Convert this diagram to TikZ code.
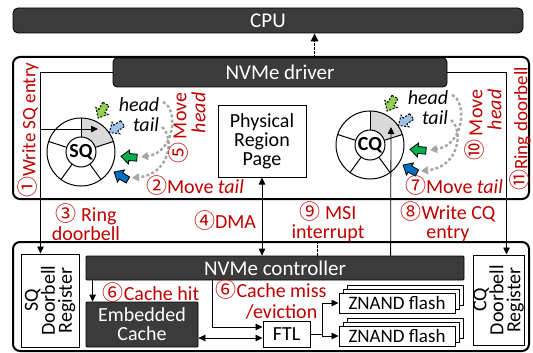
\documentclass[tikz,border=0pt]{standalone}
\usepackage{fontspec}
\setmainfont{Carlito}
\newfontfamily\cjkf{Noto Sans CJK JP}
\usetikzlibrary{arrows.meta,calc,shadows}
\definecolor{darkbar}{HTML}{3B3B3B}
\definecolor{lred}{HTML}{C00000}
\definecolor{segg}{HTML}{D9D9D9}
\definecolor{arrg}{HTML}{A6A6A6}
\definecolor{gsol}{HTML}{00B050}
\definecolor{glt}{HTML}{92D050}
\definecolor{bsol}{HTML}{0070C0}
\definecolor{blt}{HTML}{9DC3E6}
\newcommand\cn[1]{{\cjkf\fontsize{21}{19}\selectfont #1}}
\newcommand\fs{\fontsize{20}{19}\selectfont}
\newcommand\ptr[4]{\begin{scope}[shift={(#1,#2)},rotate=#3]\draw[#4] (-8,-3.5) -- (0,-3.5) -- (0,-7) -- (8,0) -- (0,7) -- (0,3.5) -- (-8,3.5) -- cycle;\end{scope}}
\newcommand\queue[4]{%
\begin{scope}[shift={(#1,#2)}]
 \fill[segg] (90:34) arc[start angle=90,end angle=18,radius=34] -- (18:15) arc[start angle=18,end angle=90,radius=15] -- cycle;
 \draw[line width=1pt] (0,0) circle[radius=34];
 \draw[line width=1pt] (0,0) circle[radius=15];
 \foreach \a in {90,18,-54,-126,162}{\draw[line width=1pt] (\a:15) -- (\a:34);}
 \node[font=\fs\bfseries, inner sep=0pt] (#3) at (0,0) {#4};
 \draw[garr] (82,50) .. controls (97,44) and (95,0) .. (60,-5);
 \draw[garr] (81,25) .. controls (94,14) and (89,-22) .. (51,-26);
 \ptr{21}{41}{241}{ptrd,fill=glt}
 \ptr{35}{24}{214}{ptrd,fill=blt}
 \ptr{48}{-5}{175}{ptrs,fill=gsol}
 \ptr{40}{-24}{150}{ptrs,fill=bsol}
 \node[font=\fs\itshape, inner sep=0pt] (#3h) at (58,47.5) {head};
 \node[font=\fs\itshape, inner sep=0pt] (#3t) at (65,27) {tail};
\end{scope}}
\begin{document}
\begin{tikzpicture}[x=1pt,y=1pt,
  >={Triangle[length=7pt,width=6.5pt]},
  bar/.style={draw=black, line width=0.8pt, fill=darkbar, rounded corners=4pt, text=white, font=\fontsize{21}{19}\selectfont, inner sep=0pt, align=center},
  wbox/.style={draw=black, line width=1pt, fill=white, font=\fs, inner sep=0pt, align=center},
  lab/.style={text=lred, font=\fs, inner sep=0pt, align=center},
  thinl/.style={line width=0.8pt},
  bigbox/.style={draw=black, line width=2pt, rounded corners=7pt, minimum width=516, minimum height=142, inner sep=0pt},
  garr/.style={draw=arrg, line width=2.4pt, dash pattern=on 3pt off 2.2pt, -{Triangle[length=7pt,width=8pt,fill=arrg]}},
  ptrd/.style={draw=black, line width=1pt, dash pattern=on 2pt off 1.5pt},
  ptrs/.style={draw=black, line width=0.8pt},
  dashl/.style={line width=1.3pt, dash pattern=on 2.5pt off 1.5pt}
]
\useasboundingbox (0,0) rectangle (533,-353);
% frames
\node[bigbox] (host) at (271,-128) {};
\node[bigbox, minimum height=109] (dev) at (271,-296.5) {};
% CPU and driver
\node[bar, rounded corners=5pt, minimum width=510, minimum height=25] (cpu) at (268,-20.5) {CPU};
\node[bar, minimum width=334, minimum height=29] (drv) at (280,-72.5) {NVMe driver};
% PRP
\node[wbox, minimum width=88, minimum height=72] (prp) at (262,-141) {Physical\\Region\\Page};
% queues
\queue{81}{-152}{sq}{SQ}
\queue{370}{-145}{cq}{CQ}
\coordinate (sqin) at (41,-129);
\coordinate (sqt) at (98,-129);
\coordinate (cqt) at (391,-127);
% device
\node[bar, rounded corners=1pt, minimum width=378, minimum height=24] (ctrl) at (275,-268) {NVMe controller};
\node[wbox, rotate=90, minimum width=93, minimum height=58, font=\fontsize{20}{17}\selectfont] (sqdb) at (50,-300.5) {SQ\\Doorbell\\Register};
\node[wbox, rotate=90, minimum width=90, minimum height=51, font=\fontsize{20}{17}\selectfont] (cqdb) at (498.5,-300) {CQ\\Doorbell\\Register};
\node[bar, rounded corners=1pt, minimum width=112, minimum height=45, font=\fontsize{20}{19}\selectfont] (cache) at (142,-324.5) {Embedded\\Cache};
\node[wbox, minimum width=47, minimum height=26] (ftl) at (286.5,-334.5) {FTL};
\node[wbox, font=\fontsize{19}{19}\selectfont, minimum width=116, minimum height=20, double copy shadow={shadow xshift=4pt, shadow yshift=4pt, draw=black, fill=white, line width=1pt}] (zn1) at (397,-303) {ZNAND flash};
\node[wbox, font=\fontsize{19}{19}\selectfont, minimum width=116, minimum height=20, double copy shadow={shadow xshift=4pt, shadow yshift=4pt, draw=black, fill=white, line width=1pt}] (zn2) at (397,-336) {ZNAND flash};
% helper coordinates
\coordinate (cpuA) at ($(drv.north west)+(202,0)$);
\coordinate (msiA) at ($(ctrl.north west)+(232,0)$);
\coordinate (cqA) at ($(ctrl.north west)+(305,0)$);
\coordinate (sqdbA) at ($(sqdb.north east)+(20,0)$);
\coordinate (cqdbA) at ($(cqdb.north east)+(34,0)$);
\coordinate (hitA) at ($(ctrl.south west)+(7,0)$);
\coordinate (hitB) at ($(cache.north west)+(7,0)$);
\coordinate (missA) at ($(ctrl.south west)+(127,0)$);
\coordinate (missB) at ($(ftl.west)+(0,7.5)$);
\coordinate (cacheR) at ($(cache.east)+(0,-13.5)$);
\coordinate (ftlL) at ($(ftl.west)+(0,-3.5)$);
% connectors
\draw[dashl, -{Triangle[length=8pt,width=7.5pt]}] (cpuA) -- (cpuA |- cpu.south);
\draw[thinl, ->] (drv.west) -| (sqdbA);
\draw[thinl, ->] (sqin) -- (sqt);
\draw[thinl, ->] (drv.east) -| (cqdbA);
\draw[thinl, ->] (cqA) -- (cqt);
\draw[thinl, <->] (prp.south) -- (prp.south |- ctrl.north);
\draw[dashl] (msiA) -- (msiA |- dev.north);
\draw[thinl, ->] (hitA) -- (hitB);
\draw[thinl, ->] (missA) |- (missB);
\draw[thinl, <->] (cacheR) -- (ftlL);
\draw[thinl, ->] (ftl.east) -- ++(12,0) |- (zn1.west);
\draw[thinl, ->] (ftl.east) -- ++(12,0) |- (zn2.west);
% labels
\node[lab, rotate=90, font=\fontsize{19}{19}\selectfont] (l1) at (28,-130) {\cn{①}Write SQ entry};
\node[lab, rotate=90, align=right] (l5) at (187,-128) {\cn{⑤}\,Move\\\textit{head}};
\node[lab] (l2) at (195,-186) {\cn{②}Move \textit{tail}};
\node[lab] (l3) at (86,-222) {\cn{③} Ring\\doorbell};
\node[lab] (l4) at (225,-221) {\cn{④}DMA};
\node[lab] (l9) at (328,-222) {\cn{⑨} MSI\\interrupt};
\node[lab] (l8) at (448,-222) {\cn{⑧}Write CQ\\entry};
\node[lab] (l7) at (454,-186) {\cn{⑦}Move \textit{tail}};
\node[lab, rotate=90, align=right] (l10) at (483,-125) {\cn{⑩}\,Move\\\textit{head}};
\node[lab, rotate=90, font=\fontsize{19}{19}\selectfont] (l11) at (520,-129) {\cn{⑪}Ring doorbell};
\node[lab] (l6a) at (151,-293) {\cn{⑥}Cache hit};
\node[lab] (l6b) at (271,-300) {\cn{⑥}Cache miss\\\phantom{\cn{⑥}}/eviction};
\end{tikzpicture}
\end{document}
